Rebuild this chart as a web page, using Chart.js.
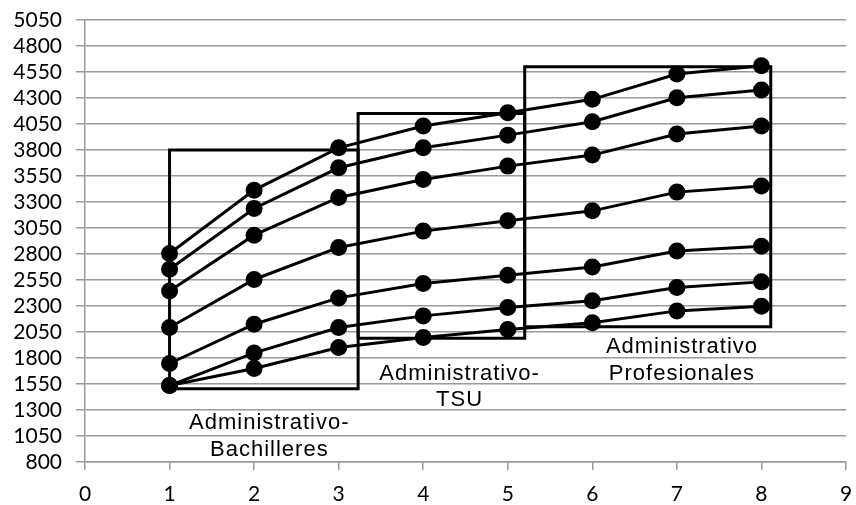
<!DOCTYPE html>
<html>
<head>
<meta charset="utf-8">
<script src="https://cdn.jsdelivr.net/npm/chart.js@4"></script>
<style>
  html, body { margin: 0; padding: 0; background: #fff; }
  #wrap { width: 856px; height: 505px; }
</style>
</head>
<body>
<div id="wrap"><canvas id="chart"></canvas></div>
<script>
// data
const xValues = [1, 2, 3, 4, 5, 6, 7, 8];
const serie1 = [2805, 3414, 3821, 4030, 4158, 4287, 4530, 4610];
const serie2 = [2654, 3238, 3629, 3821, 3943, 4072, 4302, 4376];
const serie3 = [2445, 2981, 3344, 3517, 3645, 3751, 3953, 4030];
const serie4 = [2093, 2555, 2863, 3020, 3119, 3215, 3395, 3453];
const serie5 = [1747, 2125, 2378, 2516, 2596, 2676, 2828, 2875];
const serie6 = [1535, 1849, 2093, 2205, 2285, 2350, 2478, 2532];
const serie7 = [1535, 1699, 1901, 1997, 2074, 2138, 2253, 2298];

// groups: x range and y range of each box, and its label
const groupNames = ["Administrativo-\nBachilleres", "Administrativo-\nTSU", "Administrativo\nProfesionales"];
const groupX = [[1, 3.23], [3.23, 5.2], [5.2, 8.11]];
const groupY = [[1505, 3800], [1990, 4150], [2100, 4600]];
const labelAt = [[2.18, 1172], [4.43, 1649], [7.06, 1904]];

const series = [serie1, serie2, serie3, serie4, serie5, serie6, serie7];

const datasets = series.map((s, i) => ({
  label: "Serie " + (i + 1),
  data: xValues.map((x, j) => ({ x: x, y: s[j] })),
  showLine: true,
  borderColor: "#000",
  backgroundColor: "#000",
  borderWidth: 3,
  pointRadius: 7,
  pointHoverRadius: 7,
  tension: 0
}));

groupX.forEach((gx, i) => {
  const gy = groupY[i];
  datasets.push({
    label: groupNames[i],
    data: [
      { x: gx[0], y: gy[0] }, { x: gx[0], y: gy[1] },
      { x: gx[1], y: gy[1] }, { x: gx[1], y: gy[0] },
      { x: gx[0], y: gy[0] }
    ],
    showLine: true,
    borderColor: "#000",
    borderWidth: 3,
    pointRadius: 0,
    pointHoverRadius: 0
  });
});

const groupLabels = {
  id: "groupLabels",
  afterDatasetsDraw(chart) {
    const ctx = chart.ctx;
    const xs = chart.scales.x, ys = chart.scales.y;
    ctx.save();
    ctx.fillStyle = "#000";
    ctx.font = "22px 'Liberation Sans', Arial, sans-serif";
    ctx.letterSpacing = "1px";
    ctx.textAlign = "center";
    ctx.textBaseline = "middle";
    groupNames.forEach((name, i) => {
      const px = xs.getPixelForValue(labelAt[i][0]);
      const py = ys.getPixelForValue(labelAt[i][1]);
      name.split("\n").forEach((line, k) => {
        ctx.fillText(line, px, py + k * 26.5);
      });
    });
    ctx.restore();
  }
};

const gridGray = "#9a9a9a";
const tickFont = { family: "Lato", size: 21 };

function noPadding(scale) {
  scale.paddingTop = 0;
  scale.paddingBottom = 0;
  scale.paddingLeft = 0;
  scale.paddingRight = 0;
}

new Chart(document.getElementById("chart"), {
  type: "scatter",
  data: { datasets: datasets },
  options: {
    responsive: true,
    maintainAspectRatio: false,
    animation: false,
    layout: { padding: { top: 20, right: 6, left: 0, bottom: 0 } },
    plugins: {
      legend: { display: false },
      tooltip: { enabled: false }
    },
    scales: {
      x: {
        type: "linear",
        min: 0,
        max: 9,
        ticks: { stepSize: 1, color: "#000", font: tickFont, padding: 12, maxRotation: 0, autoSkip: false },
        grid: { drawOnChartArea: false, drawTicks: true, tickLength: 8, color: gridGray, lineWidth: 1.5 },
        border: { color: gridGray, width: 1.5 },
        afterFit(scale) { scale.height = 43; noPadding(scale); }
      },
      y: {
        type: "linear",
        min: 800,
        max: 5050,
        ticks: {
          stepSize: 250,
          color: "#000",
          font: tickFont,
          padding: 14,
          autoSkip: false,
          callback: (v) => String(v)
        },
        grid: { color: gridGray, lineWidth: 1.5, tickLength: 9 },
        border: { color: gridGray, width: 1.5 },
        afterFit(scale) { scale.width = 85; noPadding(scale); }
      }
    }
  },
  plugins: [groupLabels]
});
</script>
</body>
</html>
